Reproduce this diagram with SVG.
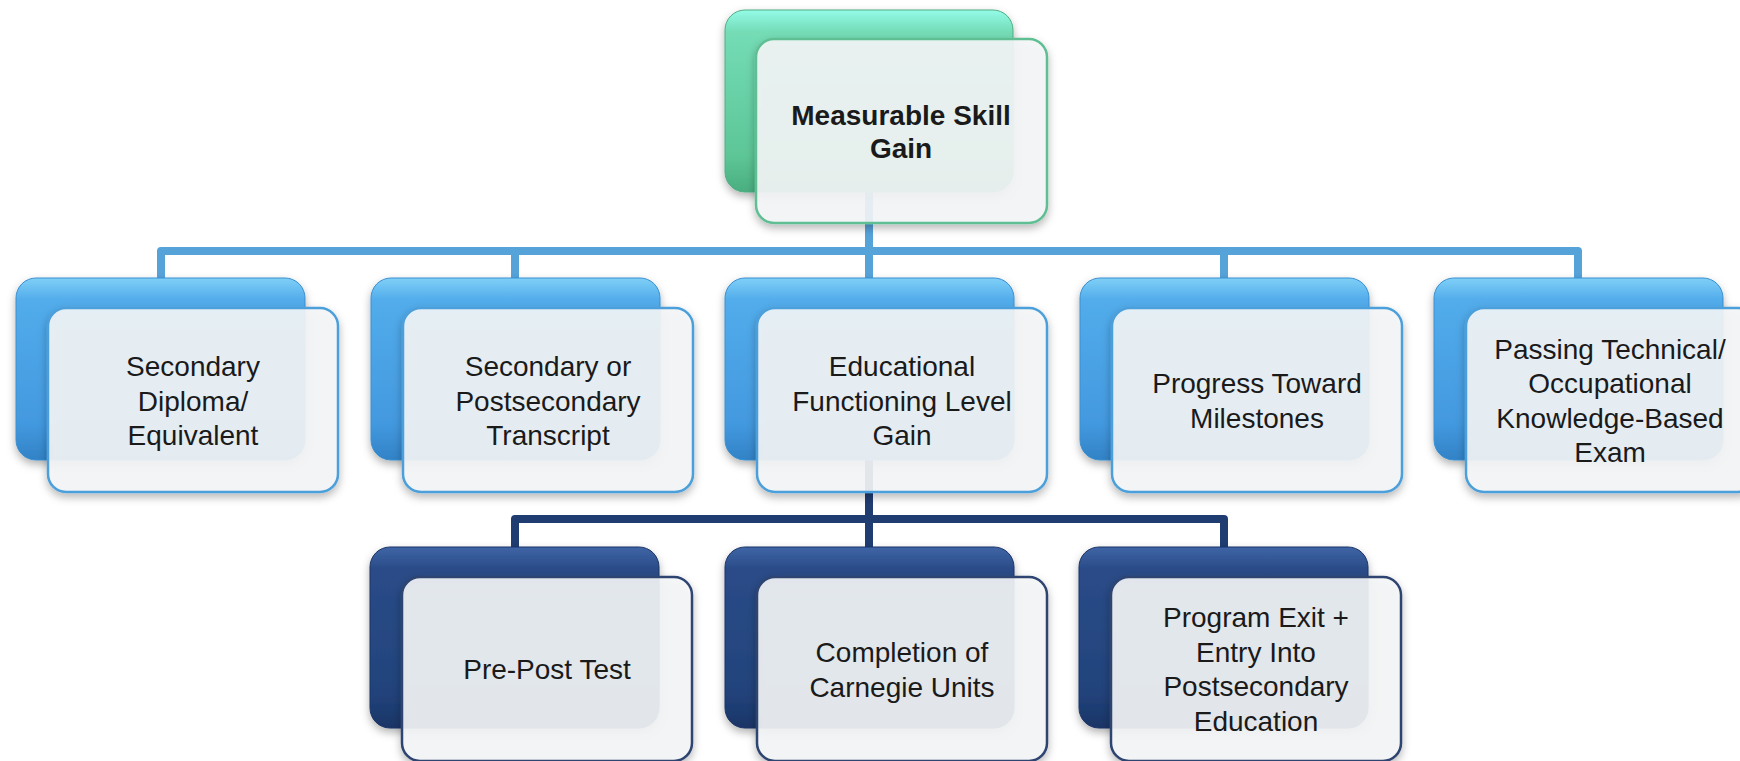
<svg xmlns="http://www.w3.org/2000/svg" width="1740" height="761" viewBox="0 0 1740 761">
<defs>
<linearGradient id="gGreen" x1="0" y1="0" x2="0" y2="1">
<stop offset="0" stop-color="#94fbe8"/><stop offset="0.12" stop-color="#74dcb6"/><stop offset="0.8" stop-color="#5dc697"/><stop offset="1" stop-color="#4aae80"/>
</linearGradient>
<linearGradient id="gBlue" x1="0" y1="0" x2="0" y2="1">
<stop offset="0" stop-color="#7fd0f7"/><stop offset="0.12" stop-color="#52aceb"/><stop offset="0.8" stop-color="#4399df"/><stop offset="1" stop-color="#3282c6"/>
</linearGradient>
<linearGradient id="gNavy" x1="0" y1="0" x2="0" y2="1">
<stop offset="0" stop-color="#3f65a6"/><stop offset="0.12" stop-color="#2a4c88"/><stop offset="0.8" stop-color="#22437c"/><stop offset="1" stop-color="#1a3566"/>
</linearGradient>
<filter id="sh" x="-10%" y="-10%" width="120%" height="130%">
<feDropShadow dx="0" dy="4" stdDeviation="4" flood-color="#000" flood-opacity="0.3"/>
</filter>
<style>
.back{filter:url(#sh);}
.bg{fill:url(#gGreen);stroke:#4fae82;stroke-width:1}
.bb{fill:url(#gBlue);stroke:#3a8fd0;stroke-width:1}
.bn{fill:url(#gNavy);stroke:#1b3566;stroke-width:1}
.front{fill:#f4f6f7;fill-opacity:0.9;stroke-width:2.5;filter:url(#sh)}
.fg{stroke:#5ebf93}
.fb{stroke:#4c9fda}
.fn{stroke:#2e4472}
.t{font-family:"Liberation Sans",Arial,sans-serif;font-size:28px;fill:#1a1a1a;text-anchor:middle}
.tb{font-weight:bold}
.cl{fill:none;stroke:#56a3da;stroke-width:8;stroke-linejoin:round;stroke-linecap:butt}
.cn{fill:none;stroke:#203d72;stroke-width:8;stroke-linejoin:round;stroke-linecap:butt}
</style>
</defs>
<rect width="1740" height="761" fill="#ffffff"/>
<g id="connectors">
<path class="cl" d="M869,192 V282"/>
<path class="cl" d="M161,282 V251 H1578 V282"/>
<path class="cl" d="M515,251 V282"/>
<path class="cl" d="M1224,251 V282"/>
<path class="cn" d="M869,460 V551"/>
<path class="cn" d="M515,551 V519 H1224 V551"/>
</g>
<g id="n-msg">
<rect class="back bg" x="725" y="10" width="288" height="182" rx="20"/>
<rect class="front fg" x="756" y="39" width="291" height="184" rx="18"/>
<text class="t tb" x="901" y="125">Measurable Skill</text>
<text class="t tb" x="901" y="158">Gain</text>
</g>
<g id="n-diploma">
<rect class="back bb" x="16" y="278" width="289" height="182" rx="20"/>
<rect class="front fb" x="48" y="308" width="290" height="184" rx="18"/>
<text class="t" x="193" y="376">Secondary</text>
<text class="t" x="193" y="410.5">Diploma/</text>
<text class="t" x="193" y="445">Equivalent</text>
</g>
<g id="n-transcript">
<rect class="back bb" x="371" y="278" width="289" height="182" rx="20"/>
<rect class="front fb" x="403" y="308" width="290" height="184" rx="18"/>
<text class="t" x="548" y="376">Secondary or</text>
<text class="t" x="548" y="410.5">Postsecondary</text>
<text class="t" x="548" y="445">Transcript</text>
</g>
<g id="n-efl">
<rect class="back bb" x="725" y="278" width="289" height="182" rx="20"/>
<rect class="front fb" x="757" y="308" width="290" height="184" rx="18"/>
<text class="t" x="902" y="376">Educational</text>
<text class="t" x="902" y="410.5">Functioning Level</text>
<text class="t" x="902" y="445">Gain</text>
</g>
<g id="n-milestones">
<rect class="back bb" x="1080" y="278" width="289" height="182" rx="20"/>
<rect class="front fb" x="1112" y="308" width="290" height="184" rx="18"/>
<text class="t" x="1257" y="393">Progress Toward</text>
<text class="t" x="1257" y="428">Milestones</text>
</g>
<g id="n-exam">
<rect class="back bb" x="1434" y="278" width="289" height="182" rx="20"/>
<rect class="front fb" x="1466" y="308" width="290" height="184" rx="18"/>
<text class="t" x="1610" y="358.5">Passing Technical/</text>
<text class="t" x="1610" y="393">Occupational</text>
<text class="t" x="1610" y="427.5">Knowledge-Based</text>
<text class="t" x="1610" y="462">Exam</text>
</g>
<g id="n-prepost">
<rect class="back bn" x="370" y="547" width="289" height="181" rx="20"/>
<rect class="front fn" x="402" y="577" width="290" height="184" rx="18"/>
<text class="t" x="547" y="679">Pre-Post Test</text>
</g>
<g id="n-carnegie">
<rect class="back bn" x="725" y="547" width="289" height="181" rx="20"/>
<rect class="front fn" x="757" y="577" width="290" height="184" rx="18"/>
<text class="t" x="902" y="662">Completion of</text>
<text class="t" x="902" y="696.5">Carnegie Units</text>
</g>
<g id="n-exit">
<rect class="back bn" x="1079" y="547" width="289" height="181" rx="20"/>
<rect class="front fn" x="1111" y="577" width="290" height="184" rx="18"/>
<text class="t" x="1256" y="627">Program Exit +</text>
<text class="t" x="1256" y="661.5">Entry Into</text>
<text class="t" x="1256" y="696">Postsecondary</text>
<text class="t" x="1256" y="730.5">Education</text>
</g>
</svg>
